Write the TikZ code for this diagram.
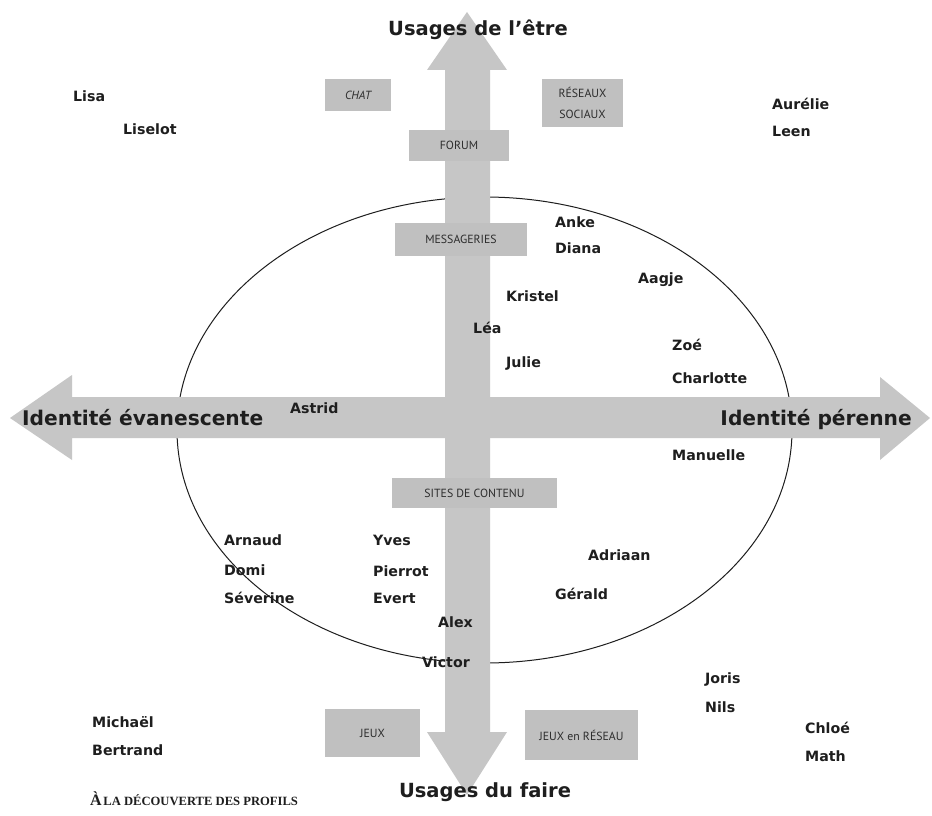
\documentclass[tikz,border=0pt]{standalone}
\usepackage{fontspec}
\setmainfont{DejaVu Sans}
\newfontfamily\boxfont{PT Sans}
\newfontfamily\capfont{Liberation Serif}
\definecolor{arrowgray}{RGB}{198,198,198}
\definecolor{boxgray}{RGB}{192,192,192}
\definecolor{boxtext}{RGB}{45,45,45}
\definecolor{inkcol}{RGB}{30,30,30}
\begin{document}
\begin{tikzpicture}[x=1pt,y=-1pt,
  person/.style={anchor=base west, inner sep=0pt, font=\bfseries\fontsize{14.2}{16}\selectfont, text=inkcol},
  axislabel/.style={inner sep=0pt, font=\bfseries\fontsize{19.5}{22}\selectfont, text=inkcol},
  sidelabel/.style={inner sep=0pt, font=\bfseries\fontsize{20.2}{22}\selectfont, text=inkcol},
  usebox/.style={fill=boxgray, draw=none, inner sep=0pt, font=\boxfont\fontsize{11.8}{21}\selectfont, text=boxtext, align=center},
]
\useasboundingbox (0,0) rectangle (932,816);
\fill[white] (0,0) rectangle (932,816);
% ellipse
\draw[line width=1pt, inkcol] (484.5,430) ellipse [x radius=307.5, y radius=233];
% vertical arrow
\fill[arrowgray] (467,12) -- (507,70) -- (490,70) -- (490,732) -- (507,732) -- (467,795) -- (427,732) -- (445,732) -- (445,70) -- (427,70) -- cycle;
% horizontal arrow
\fill[arrowgray] (10,418) -- (72,375) -- (72,397) -- (880,397) -- (880,377) -- (930,418) -- (880,460) -- (880,438) -- (72,438) -- (72,460) -- cycle;
% boxes
\node[usebox, minimum width=66pt, minimum height=32pt] (chat) at (358,95) {\itshape CHAT};
\node[usebox, minimum width=81pt, minimum height=48pt] (reseaux) at (582.5,103) {RÉSEAUX\\SOCIAUX};
\node[usebox, minimum width=100pt, minimum height=31pt] (forum) at (459,145.5) {FORUM};
\node[usebox, minimum width=132pt, minimum height=33pt] (messageries) at (461,239.5) {MESSAGERIES};
\node[usebox, minimum width=165pt, minimum height=30pt] (sites) at (474.5,493) {SITES DE CONTENU};
\node[usebox, minimum width=95pt, minimum height=48pt] (jeux) at (372.5,733) {JEUX};
\node[usebox, minimum width=113pt, minimum height=50pt] (jeuxreseau) at (581.5,735) {JEUX en RÉSEAU};
% axis labels
\node[axislabel, anchor=base] (etre) at (478,36) {Usages de l’être};
\node[axislabel, anchor=base] (faire) at (485,797) {Usages du faire};
\node[sidelabel, anchor=base west] (evanescente) at (22,425) {Identité évanescente};
\node[sidelabel, anchor=base east] (perenne) at (912,425) {Identité pérenne};
% names
\node[person] (lisa) at (73,102) {Lisa};
\node[person] (liselot) at (123,134) {Liselot};
\node[person] (aurelie) at (772,110) {Aurélie};
\node[person] (leen) at (772,136) {Leen};
\node[person] (anke) at (555,227) {Anke};
\node[person] (diana) at (555,253) {Diana};
\node[person] (aagje) at (638,283) {Aagje};
\node[person] (kristel) at (506,301) {Kristel};
\node[person] (lea) at (473,333) {Léa};
\node[person] (zoe) at (672,350) {Zoé};
\node[person] (julie) at (506,367) {Julie};
\node[person] (charlotte) at (672,383) {Charlotte};
\node[person] (astrid) at (290,413) {Astrid};
\node[person] (manuelle) at (672,460) {Manuelle};
\node[person] (arnaud) at (224,545) {Arnaud};
\node[person] (yves) at (373,545) {Yves};
\node[person] (adriaan) at (588,560) {Adriaan};
\node[person] (domi) at (224,575) {Domi};
\node[person] (pierrot) at (373,576) {Pierrot};
\node[person] (severine) at (224,603) {Séverine};
\node[person] (evert) at (373,603) {Evert};
\node[person] (gerald) at (555,599) {Gérald};
\node[person] (alex) at (438,627) {Alex};
\node[person] (victor) at (422,667) {Victor};
\node[person] (joris) at (705,683) {Joris};
\node[person] (nils) at (705,712) {Nils};
\node[person] (chloe) at (805,733) {Chloé};
\node[person] (math) at (805,761) {Math};
\node[person] (michael) at (92,727) {Michaël};
\node[person] (bertrand) at (92,755) {Bertrand};
% caption
\node[anchor=base west, inner sep=0pt, text=inkcol] (titre) at (90,805) {\capfont\bfseries{\fontsize{16}{17}\selectfont À}\,{\fontsize{12.6}{14}\selectfont LA DÉCOUVERTE DES PROFILS}};
\end{tikzpicture}
\end{document}
